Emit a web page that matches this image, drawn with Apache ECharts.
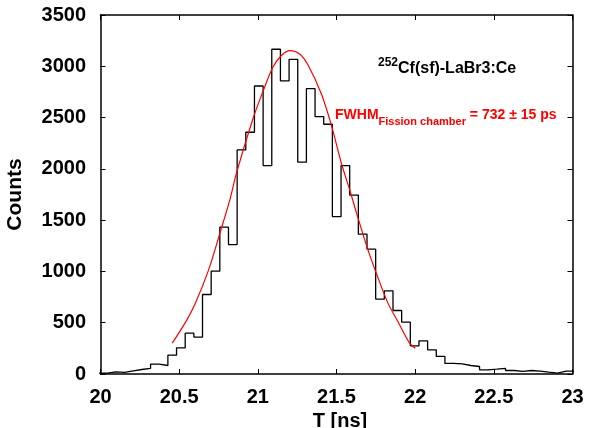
<!DOCTYPE html>
<html><head><meta charset="utf-8">
<script src="https://cdn.jsdelivr.net/npm/echarts@6/dist/echarts.min.js"></script>
<style>html,body{margin:0;padding:0;background:#fff}#c{width:589px;height:428px}</style>
</head><body><div id="c"></div>
<script>
// Histogram: first bin lower edge and bin width (ns)
const binStart = 19.988;
const binWidth = 0.05503;
const counts = [9, 20, 15, 30, 44, 54, 96, 83, 184, 255, 398, 359, 775, 1002, 1431, 1262,
  2185, 2357, 2808, 2032, 3166, 2857, 3068, 2065, 2782, 2509, 2435, 1535, 2032, 1743, 1363,
  1217, 730, 811, 619, 506, 275, 323, 236, 171, 103, 98, 83, 73, 41, 47, 54, 34, 25, 34,
  28, 18, 9, 28, 28];
// Fitted curve
const fitT = [20.456, 20.537, 20.6, 20.686, 20.759, 20.822, 20.864, 20.97, 21.034, 21.097,
  21.15, 21.203, 21.267, 21.32, 21.404, 21.467, 21.531, 21.584, 21.637, 21.7, 21.753,
  21.827, 21.89, 21.965, 22.001];
const fitCounts = [301, 496, 680, 1010, 1373, 1697, 1958, 2493, 2760, 2996, 3105, 3152, 3118,
  3010, 2730, 2428, 2055, 1795, 1519, 1210, 983, 691, 512, 301, 252];
const xTickLabels = ['20', '20.5', '21', '21.5', '22', '22.5', '23'];
const yTickLabels = ['0', '500', '1000', '1500', '2000', '2500', '3000', '3500'];

const hist = [];
counts.forEach((c, i) => {
  const a = binStart + i * binWidth;
  hist.push([a, c], [a + binWidth, c]);
});
const fit = fitT.map((t, i) => [t, fitCounts[i]]);

const FONT = "'Liberation Sans', Arial, Helvetica, sans-serif";
const lbl = {fontSize: 20, fontWeight: 'bold', color: '#000', fontFamily: FONT};
const axLine = {show: true, onZero: false, lineStyle: {color: '#000', width: 1.5}};
const tick = {show: true, inside: true, length: 5, lineStyle: {color: '#000', width: 1}};

const chart = echarts.init(document.getElementById('c'), null, {renderer: 'canvas'});
chart.setOption({
  animation: false,
  backgroundColor: '#fff',
  grid: {left: 100.5, right: 16.5, top: 15, bottom: 54, containLabel: false, outerBoundsMode: 'none'},
  xAxis: [{
    type: 'value', min: 20, max: 23, interval: 0.5, position: 'bottom',
    axisLine: axLine, axisTick: tick, splitLine: {show: false},
    axisLabel: Object.assign({margin: 13, formatter: (v) => xTickLabels[Math.round((v - 20) / 0.5)]}, lbl),
    name: 'T [ns]', nameLocation: 'middle', nameGap: 30,
    nameTextStyle: Object.assign({padding: [0, 0, 0, 7]}, lbl)
  }, {
    type: 'value', min: 20, max: 23, interval: 0.5, position: 'top',
    axisLine: axLine, axisTick: tick, axisLabel: {show: false}, splitLine: {show: false}
  }],
  yAxis: [{
    type: 'value', min: 0, max: 3500, interval: 500, position: 'left',
    axisLine: axLine, axisTick: tick, splitLine: {show: false},
    axisLabel: Object.assign({margin: 14.5, formatter: (v) => yTickLabels[Math.round(v / 500)]}, lbl),
    name: 'Counts', nameLocation: 'middle', nameRotate: 90, nameGap: 75,
    nameTextStyle: Object.assign({}, lbl, {fontSize: 21})
  }, {
    type: 'value', min: 0, max: 3500, interval: 500, position: 'right',
    axisLine: axLine, axisTick: tick, axisLabel: {show: false}, splitLine: {show: false}
  }],
  series: [{
    type: 'line', data: hist, showSymbol: false, symbol: 'none', clip: true,
    lineStyle: {color: '#000', width: 1.3}, z: 2
  }, {
    type: 'line', data: fit, showSymbol: false, symbol: 'none', smooth: 0.3, clip: true,
    lineStyle: {color: '#ff0000', width: 1.2}, z: 3
  }],
  graphic: [{
    type: 'text', x: 378, y: 57, z: 10,
    style: {
      text: '{sup|252}{m|Cf(sf)-LaBr3:Ce}',
      fill: '#000',
      rich: {
        sup: {fontSize: 12, fontWeight: 'bold', fontFamily: FONT, lineHeight: 12, verticalAlign: 'top', fill: '#000', color: '#000'},
        m: {fontSize: 16, fontWeight: 'bold', fontFamily: FONT, lineHeight: 20, verticalAlign: 'bottom', fill: '#000', color: '#000'}
      }
    }
  }, {
    type: 'text', x: 335, y: 115.5, z: 10,
    style: {
      text: '{m|FWHM}{sub|Fission chamber}{m| = 732 \u00b1 15 ps}',
      fill: '#ff0000',
      verticalAlign: 'middle',
      rich: {
        m: {fontSize: 14, fontWeight: 'bold', fontFamily: FONT, verticalAlign: 'middle', fill: '#ff0000', color: '#ff0000'},
        sub: {fontSize: 11, fontWeight: 'bold', fontFamily: FONT, verticalAlign: 'middle', padding: [12, 0, 0, 0], fill: '#ff0000', color: '#ff0000'}
      }
    }
  }]
});
</script>
</body></html>
